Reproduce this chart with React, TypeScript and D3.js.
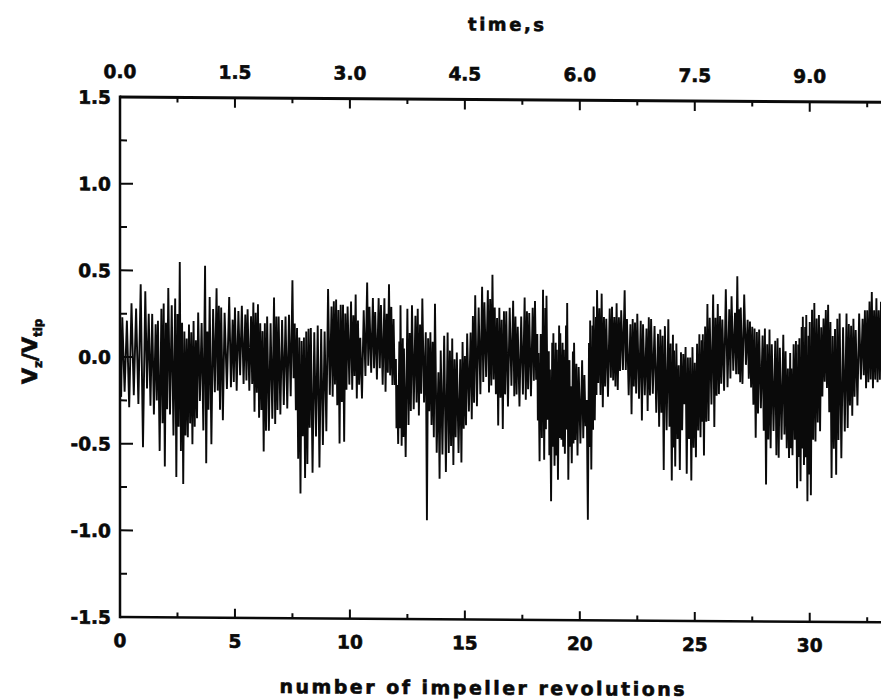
import React from "react";
import * as d3 from "d3";

// ---- data ----
// revolution position of each oscillation, its upper and lower excursion of Vz/Vtip
const sampleRev = [
  0.0, 0.1, 0.3, 0.5, 0.7, 0.9, 1.1, 1.25, 1.4, 1.55, 1.65, 1.8, 1.9, 2.0, 2.1, 2.25, 2.4, 2.5, 2.6, 2.7, 2.8, 2.9,
  3.0, 3.1, 3.2, 3.3, 3.4, 3.55, 3.7, 3.8, 3.9, 4.05, 4.2, 4.3, 4.4, 4.55, 4.75, 4.9, 5.0, 5.15, 5.3, 5.45, 5.55,
  5.7, 5.8, 5.9, 6.0, 6.1, 6.2, 6.3, 6.4, 6.55, 6.7, 6.8, 6.9, 7.05, 7.2, 7.35, 7.5, 7.6, 7.7, 7.8, 7.9, 8.0,
  8.1, 8.2, 8.3, 8.45, 8.6, 8.75, 8.9, 9.05, 9.2, 9.3, 9.4, 9.5, 9.6, 9.7, 9.8, 9.9, 10.05, 10.15, 10.25, 10.35,
  10.45, 10.6, 10.75, 10.85, 11.0, 11.1, 11.25, 11.35, 11.5, 11.6, 11.7, 11.8, 11.9, 12.0, 12.05, 12.15, 12.2,
  12.3, 12.35, 12.5, 12.6, 12.7, 12.85, 12.95, 13.05, 13.15, 13.3, 13.4, 13.5, 13.6, 13.7, 13.85, 13.95, 14.1,
  14.25, 14.35, 14.45, 14.55, 14.65, 14.8, 14.9, 15.0, 15.1, 15.25, 15.35, 15.45, 15.6, 15.75, 15.85, 16.0, 16.1,
  16.2, 16.3, 16.4, 16.5, 16.6, 16.7, 16.8, 16.95, 17.1, 17.2, 17.3, 17.45, 17.6, 17.7, 17.8, 17.95, 18.05, 18.15,
  18.2, 18.3, 18.4, 18.5, 18.55, 18.65, 18.7, 18.8, 18.85, 18.95, 19.0, 19.1, 19.15, 19.25, 19.3, 19.4, 19.45,
  19.55, 19.6, 19.7, 19.75, 19.85, 19.95, 20.1, 20.2, 20.3, 20.4, 20.45, 20.55, 20.6, 20.7, 20.75, 20.85, 20.95,
  21.05, 21.15, 21.3, 21.4, 21.5, 21.6, 21.7, 21.8, 21.95, 22.05, 22.2, 22.3, 22.4, 22.5, 22.65, 22.75, 22.9,
  23.0, 23.1, 23.25, 23.4, 23.5, 23.6, 23.7, 23.85, 23.95, 24.05, 24.1, 24.2, 24.3, 24.4, 24.5, 24.6, 24.7, 24.8,
  24.9, 25.0, 25.1, 25.2, 25.3, 25.35, 25.45, 25.55, 25.65, 25.8, 25.9, 26.0, 26.1, 26.2, 26.35, 26.5, 26.6,
  26.75, 26.85, 26.95, 27.0, 27.15, 27.3, 27.4, 27.5, 27.6, 27.7, 27.8, 27.95, 28.05, 28.15, 28.25, 28.35, 28.5,
  28.6, 28.7, 28.85, 28.95, 29.05, 29.15, 29.2, 29.3, 29.4, 29.5, 29.55, 29.65, 29.7, 29.8, 29.85, 29.95, 30.0,
  30.1, 30.2, 30.3, 30.4, 30.5, 30.6, 30.7, 30.8, 30.9, 31.0, 31.1, 31.2, 31.3, 31.45, 31.6, 31.7, 31.8, 31.9,
  32.0, 32.15, 32.3, 32.4, 32.5, 32.6, 32.7, 32.8, 32.9, 33.0, 33.1,
];
const peakHi = [
  0.23, 0.23, 0.21, 0.31, 0.28, 0.42, 0.38, 0.25, 0.25, 0.19, 0.21, 0.28, 0.31, 0.2, 0.4, 0.3, 0.34, 0.25, 0.55, 0.2, 0.15, 0.11,
  0.19, 0.145, 0.21, 0.1, 0.26, 0.2, 0.53, 0.15, 0.35, 0.28, 0.4, 0.3, 0.29, 0.26, 0.35, 0.22, 0.29, 0.27, 0.3, 0.25, 0.28,
  0.24, 0.32, 0.26, 0.31, 0.2, 0.155, 0.2, 0.24, 0.2, 0.35, 0.24, 0.24, 0.22, 0.24, 0.25, 0.45, 0.2, 0.175, 0.12, 0.1, 0.12,
  0.155, 0.17, 0.175, 0.15, 0.19, 0.17, 0.155, 0.4, 0.3, 0.33, 0.34, 0.28, 0.31, 0.31, 0.26, 0.3, 0.33, 0.25, 0.37, 0.22,
  0.12, 0.28, 0.44, 0.3, 0.35, 0.27, 0.35, 0.31, 0.35, 0.26, 0.43, 0.3, 0.23, 0.0, -0.15, 0.1, 0.31,
  0.12, 0.06, 0.29, 0.15, 0.31, 0.25, 0.29, 0.2, 0.35, 0.155, 0.12, 0.155, 0.1, 0.32, -0.075, 0.05, 0.135,
  0.155, 0.05, 0.12, 0.0, 0.04, 0.0, 0.1, 0.02, 0.15, 0.155, 0.25, 0.37, 0.3, 0.42, 0.33, 0.4, 0.35,
  0.49, 0.3, 0.24, 0.3, 0.23, 0.28, 0.28, 0.3, 0.34, 0.25, 0.19, 0.25, 0.36, 0.28, 0.27, 0.3, 0.34, 0.15,
  0.04, 0.15, 0.405, 0.3, 0.37, 0.05, -0.055, 0.1, 0.155, 0.1, 0.06, 0.2, 0.155, 0.1, 0.06, 0.2, 0.33,
  0.0, -0.15, 0.05, 0.1, -0.02, -0.04, 0.0, -0.085, -0.23, 0.1, 0.23, 0.2, 0.31, 0.25, 0.405, 0.3, 0.385,
  0.25, 0.24, 0.3, 0.31, 0.25, 0.33, 0.25, 0.29, 0.405, 0.24, 0.21, 0.24, 0.22, 0.27, 0.23, 0.21, 0.185,
  0.25, 0.24, 0.2, 0.155, 0.18, 0.145, 0.2, 0.24, 0.1, 0.15, 0.06, 0.1, -0.025, 0.05, 0.04, 0.08, 0.02, 0.02,
  0.08, -0.01, 0.1, 0.155, 0.12, 0.155, 0.2, 0.33, 0.25, 0.385, 0.25, 0.33, 0.26, 0.24, 0.415, 0.3, 0.375,
  0.28, 0.49, 0.3, 0.31, 0.385, 0.24, 0.23, 0.2, 0.19, 0.17, 0.185, 0.15, 0.19, 0.1, 0.185, 0.1, 0.12,
  0.135, 0.08, 0.155, 0.06, -0.04, 0.05, -0.04, 0.1, 0.12, 0.1, 0.135, 0.2, 0.26, 0.2, 0.27, 0.15, 0.23,
  0.3, 0.34, 0.25, 0.27, 0.2, 0.25, 0.3, 0.33, 0.23, 0.15, 0.19, 0.25, 0.28, 0.2, 0.28, 0.22, 0.21, 0.25,
  0.185, 0.28, 0.25, 0.3, 0.3, 0.35, 0.405, 0.3, 0.37, 0.3, 0.35,
];
const peakLo = [
  -0.23, -0.2, -0.29, -0.22, -0.27, -0.52, -0.18, -0.28, -0.33, -0.25, -0.54, -0.38, -0.63, -0.3, -0.33, -0.45, -0.69, -0.4, -0.54, -0.73, -0.45, -0.46,
  -0.38, -0.5, -0.4, -0.35, -0.25, -0.42, -0.61, -0.3, -0.5, -0.2, -0.19, -0.3, -0.36, -0.18, -0.17, -0.14, -0.19, -0.1, -0.15, -0.13, -0.19,
  -0.15, -0.31, -0.2, -0.345, -0.3, -0.54, -0.42, -0.42, -0.35, -0.38, -0.3, -0.325, -0.27, -0.29, -0.22, -0.115, -0.3, -0.58, -0.78, -0.45, -0.69,
  -0.61, -0.4, -0.66, -0.45, -0.63, -0.5, -0.42, -0.21, -0.22, -0.15, -0.27, -0.49, -0.25, -0.48, -0.18, -0.15, -0.18, -0.1, -0.23, -0.15,
  -0.23, -0.1, -0.04, -0.08, -0.055, -0.12, -0.055, -0.15, -0.19, -0.08, -0.095, -0.15, -0.15, -0.4, -0.49, -0.4, -0.5,
  -0.45, -0.565, -0.38, -0.3, -0.29, -0.25, -0.325, -0.2, -0.25, -0.93, -0.3, -0.38, -0.45, -0.54, -0.69, -0.55, -0.65,
  -0.54, -0.5, -0.61, -0.45, -0.54, -0.595, -0.4, -0.38, -0.3, -0.345, -0.25, -0.27, -0.2, -0.13, -0.1, -0.19, -0.15,
  -0.115, -0.2, -0.38, -0.22, -0.4, -0.2, -0.27, -0.15, -0.21, -0.2, -0.27, -0.2, -0.23, -0.17, -0.21, -0.12, -0.115, -0.35,
  -0.585, -0.45, -0.575, -0.4, -0.345, -0.55, -0.815, -0.5, -0.61, -0.55, -0.69, -0.45, -0.46, -0.5, -0.54, -0.4, -0.69,
  -0.5, -0.595, -0.48, -0.46, -0.55, -0.48, -0.45, -0.38, -0.92, -0.5, -0.63, -0.4, -0.345, -0.2, -0.13, -0.2, -0.27,
  -0.15, -0.21, -0.1, -0.115, -0.15, -0.17, -0.06, -0.055, -0.055, -0.2, -0.31, -0.15, -0.19, -0.22, -0.345, -0.2, -0.29,
  -0.2, -0.19, -0.3, -0.38, -0.3, -0.63, -0.4, -0.38, -0.69, -0.5, -0.61, -0.45, -0.63, -0.4, -0.25, -0.65, -0.45, -0.69,
  -0.5, -0.555, -0.4, -0.44, -0.35, -0.545, -0.35, -0.345, -0.25, -0.38, -0.2, -0.19, -0.13, -0.17, -0.15, -0.1, -0.055,
  -0.075, -0.075, -0.12, -0.13, -0.02, -0.1, -0.15, -0.25, -0.44, -0.3, -0.27, -0.4, -0.71, -0.45, -0.5, -0.4, -0.54,
  -0.555, -0.45, -0.42, -0.5, -0.555, -0.5, -0.54, -0.45, -0.73, -0.55, -0.69, -0.5, -0.595, -0.55, -0.805, -0.65, -0.77,
  -0.45, -0.46, -0.35, -0.4, -0.2, -0.115, -0.15, -0.29, -0.67, -0.5, -0.65, -0.45, -0.555, -0.4, -0.38, -0.25, -0.31, -0.2,
  -0.25, -0.1, -0.075, -0.15, -0.115, -0.1, -0.15, -0.1, -0.115, -0.1, -0.15,
];

const revTicksMajor = [0, 5, 10, 15, 20, 25, 30];
const revTicksMinor = [2.5, 7.5, 12.5, 17.5, 22.5, 27.5, 32.5];
const timeTicksMajor = [0, 1.5, 3.0, 4.5, 6.0, 7.5, 9.0];
const timeTicksMinor = [0.75, 2.25, 3.75, 5.25, 6.75, 8.25, 9.75];
const yTicksMajor = [-1.5, -1.0, -0.5, 0.0, 0.5, 1.0, 1.5];
const yTicksMinor = [-1.25, -0.75, -0.25, 0.25, 0.75, 1.25];
const secondsPerRev = 0.3;

const W = 881;
const H = 700;
const left = 120;
const right = 881;
const top = 97;
const bottom = 617;

export default function App() {
  const x = d3.scaleLinear().domain([0, 33.1]).range([left, right]);
  const xt = d3.scaleLinear().domain([0, 33.1 * secondsPerRev]).range([left, right]);
  const y = d3.scaleLinear().domain([-1.5, 1.5]).range([bottom, top]);

  const pts: [number, number][] = [];
  sampleRev.forEach((r, i) => {
    const next = i < sampleRev.length - 1 ? sampleRev[i + 1] : r + 0.1;
    pts.push([x(r), y(peakHi[i])]);
    pts.push([x((r + next) / 2), y(peakLo[i])]);
  });
  const line = d3.line<[number, number]>().x((d) => d[0]).y((d) => d[1]);

  const font = "'DejaVu Sans', sans-serif";
  const ink = "#0a0a0a";
  const heavy = { stroke: ink, strokeWidth: 0.6 };

  return (
    <svg width={W} height={H} style={{ position: "absolute", left: 0, top: 0, background: "#fff" }}>
      <defs>
        <clipPath id="plot">
          <rect x={left} y={top - 2} width={right - left} height={bottom - top + 4} />
        </clipPath>
      </defs>
      <g transform={`translate(${left},0) skewY(0.4) translate(${-left},0)`}>
        <g clipPath="url(#plot)">
          <path d={line(pts) || ""} fill="none" stroke={ink} strokeWidth={1.9} strokeLinejoin="bevel" />
        </g>

        {/* axes lines */}
        <line x1={left} x2={right} y1={top} y2={top} stroke={ink} strokeWidth={3} />
        <line x1={left} x2={right} y1={bottom} y2={bottom} stroke={ink} strokeWidth={2.5} />
        <line x1={left} x2={left} y1={top - 1.5} y2={bottom + 1.2} stroke={ink} strokeWidth={2.5} />

        {/* bottom ticks */}
        {revTicksMajor.map((t) => (
          <g key={"bM" + t}>
            <line x1={x(t)} x2={x(t)} y1={bottom} y2={bottom - 9} stroke={ink} strokeWidth={2} />
            <text x={x(t)} y={bottom + 30} textAnchor="middle" fontFamily={font} fontWeight="bold" fontSize={18.5} fill={ink} {...heavy}>
              {t}
            </text>
          </g>
        ))}
        {revTicksMinor.map((t) => (
          <line key={"bm" + t} x1={x(t)} x2={x(t)} y1={bottom} y2={bottom - 5} stroke={ink} strokeWidth={2} />
        ))}

        {/* top ticks */}
        {timeTicksMajor.map((t) => (
          <g key={"tM" + t}>
            <line x1={xt(t)} x2={xt(t)} y1={top} y2={top + 10} stroke={ink} strokeWidth={2} />
            <text x={xt(t)} y={top - 19} textAnchor="middle" fontFamily={font} fontWeight="bold" fontSize={18.5} fill={ink} {...heavy}>
              {t.toFixed(1)}
            </text>
          </g>
        ))}
        {timeTicksMinor.map((t) => (
          <line key={"tm" + t} x1={xt(t)} x2={xt(t)} y1={top} y2={top + 5} stroke={ink} strokeWidth={2} />
        ))}

        {/* left ticks */}
        {yTicksMajor.map((t) => (
          <g key={"yM" + t}>
            <line x1={left} x2={left + 13} y1={y(t)} y2={y(t)} stroke={ink} strokeWidth={2} />
            <text x={111} y={y(t) + 7} textAnchor="end" fontFamily={font} fontWeight="bold" fontSize={18.5} fill={ink} {...heavy}>
              {t.toFixed(1)}
            </text>
          </g>
        ))}
        {yTicksMinor.map((t) => (
          <line key={"ym" + t} x1={left} x2={left + 7} y1={y(t)} y2={y(t)} stroke={ink} strokeWidth={2} />
        ))}

        {/* titles */}
        <text x={506} y={28} textAnchor="middle" fontFamily={font} fontWeight="bold" fontSize={18} fill={ink}
          textLength={76} lengthAdjust="spacing" {...heavy}>
          time,s
        </text>
        <text x={482} y={692} textAnchor="middle" fontFamily={font} fontWeight="bold" fontSize={19} fill={ink}
          textLength={405} lengthAdjust="spacing" {...heavy}>
          number of impeller revolutions
        </text>
        <text transform="translate(37,352) rotate(-90)" textAnchor="middle" fontFamily={font} fontWeight="bold" fontSize={21} fill={ink} {...heavy}>
          V<tspan fontSize={12} dy={5}>z</tspan><tspan dy={-5}>/V</tspan><tspan fontSize={12} dy={5}>tip</tspan>
        </text>
      </g>
    </svg>
  );
}
